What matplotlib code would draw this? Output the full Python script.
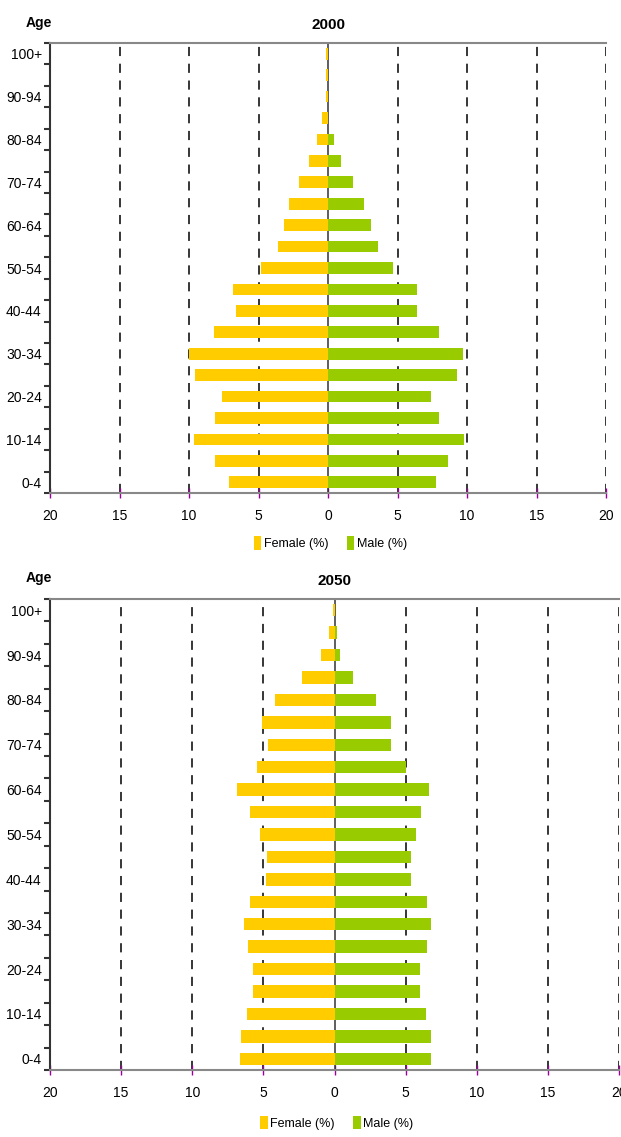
import matplotlib.pyplot as plt
import numpy as np

plt.rcParams['font.family'] = ['Liberation Sans Narrow', 'Liberation Sans', 'DejaVu Sans']

ages = ['0-4', '5-9', '10-14', '15-19', '20-24', '25-29', '30-34', '35-39', '40-44',
        '45-49', '50-54', '55-59', '60-64', '65-69', '70-74', '75-79', '80-84',
        '85-89', '90-94', '95-99', '100+']

# values listed from 0-4 up to 100+
female_2000 = [7.1, 8.15, 9.65, 8.15, 7.65, 9.55, 10.0, 8.2, 6.6, 6.8, 4.8, 3.6, 3.2, 2.8,
               2.1, 1.4, 0.8, 0.4, 0.12, 0.12, 0.12]
male_2000 = [7.8, 8.6, 9.8, 8.0, 7.4, 9.3, 9.7, 8.0, 6.4, 6.4, 4.7, 3.6, 3.1, 2.6,
             1.8, 0.95, 0.4, 0.0, 0.0, 0.0, 0.0]
female_2050 = [6.65, 6.6, 6.15, 5.75, 5.7, 6.05, 6.35, 5.95, 4.85, 4.75, 5.25, 5.95, 6.85,
               5.45, 4.7, 5.1, 4.15, 2.3, 0.95, 0.37, 0.12]
male_2050 = [6.8, 6.8, 6.4, 6.0, 6.0, 6.5, 6.8, 6.5, 5.4, 5.4, 5.7, 6.1, 6.65,
             5.0, 4.0, 4.0, 2.9, 1.3, 0.4, 0.15, 0.0]

fem_col = '#FFCC00'
male_col = '#99CC00'

fig = plt.figure(figsize=(6.21, 11.37), dpi=100)
ax1 = fig.add_axes([50/621, 1-493/1137, 556/621, 450/1137])
ax2 = fig.add_axes([50/621, 1-1070/1137, 569/621, 471/1137])


def pyramid(ax, year, female, male):
    y = np.arange(len(ages))
    ax.barh(y, -np.array(female), height=0.55, color=fem_col, label='Female (%)', zorder=3)
    ax.barh(y, male, height=0.55, color=male_col, label='Male (%)', zorder=3)
    ax.set_xlim(-20, 20)
    ax.set_ylim(-0.5, len(ages) - 0.5)
    for gx in [-15, -10, -5, 5, 10, 15, 20]:
        ax.axvline(gx, color='black', lw=1.1, ls=(0, (6, 5)), zorder=1)
    ax.axvline(0, color='#333333', lw=1.1, zorder=2)

    ax.set_xticks(np.arange(-20, 21, 5))
    ax.set_xticklabels([str(abs(v)) for v in range(-20, 21, 5)], fontsize=10)
    ax.tick_params(axis='x', direction='inout', length=7, width=1, color='#990099', pad=8)

    ax.set_yticks(y[::2])
    ax.set_yticklabels(ages[::2], fontsize=10)
    ax.tick_params(axis='y', length=0, pad=6)
    ax.set_yticks(np.arange(-0.5, len(ages), 1), minor=True)
    ax.tick_params(axis='y', which='minor', length=4, width=1.5, color='#333333', direction='out')

    ax.spines['right'].set_visible(False)
    ax.spines['top'].set_color('#888888')
    ax.spines['top'].set_linewidth(1.5)
    ax.spines['bottom'].set_color('#888888')
    ax.spines['bottom'].set_linewidth(1.5)
    ax.spines['left'].set_color('#333333')
    ax.spines['left'].set_linewidth(1.5)

    ax.set_title(year, fontsize=11, fontweight='bold', pad=10)
    ax.text(-0.02, 1.03, 'Age', transform=ax.transAxes, fontsize=10, fontweight='bold',
            ha='center', va='bottom')
    ax.legend(loc='center', bbox_to_anchor=(0.504, -0.112), ncol=2, frameon=False,
              fontsize=9, handlelength=0.6, handleheight=1.3, handletextpad=0.2,
              columnspacing=1.5)


pyramid(ax1, '2000', female_2000, male_2000)
pyramid(ax2, '2050', female_2050, male_2050)

fig.savefig('out.png', dpi=100)
